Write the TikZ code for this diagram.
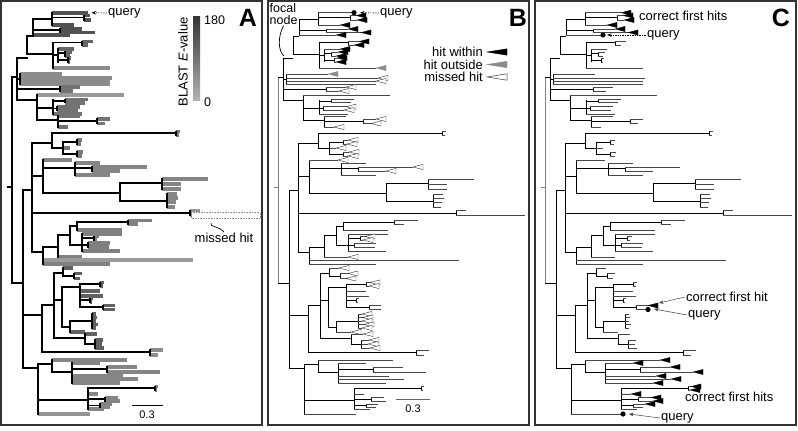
\documentclass[tikz,border=0pt]{standalone}
\usepackage{fontspec}
\setmainfont{Liberation Sans}
\usetikzlibrary{arrows.meta}
\newcommand\pmode{0}
\newcommand\mkr[3]{%
 \ifcase#1\relax
 \or \filldraw[black, line width=0.3pt] (#2,#3) -- ++(10,-2.6) -- ++(0,5.2) -- cycle;
 \or \filldraw[draw=black!45, fill=black!45, line width=0.3pt] (#2,#3) -- ++(10,-2.6) -- ++(0,5.2) -- cycle;
 \or \filldraw[draw=black!80, fill=white, line width=0.4pt] (#2,#3) -- ++(10,-2.6) -- ++(0,5.2) -- cycle;
 \or \fill[black] (#2,#3) circle (2.6);
 \fi}
\newcommand\lf[5]{\draw[leafline] (#1,#3) -- (#2,#3);%
 \ifcase\pmode\relax \or \mkr{#4}{#2}{#3}\or \mkr{#5}{#2}{#3}\fi}
\newcommand\lfmiss[3]{\ifnum\pmode=0 \draw[leafline] (#1,#3) -- (192,#3);\else \draw[leafline] (#1,#3) -- (#2,#3);\fi}
\newcommand\nd[5]{\draw[intline] (#1,#3) -- (#2,#3); \draw[intline] (#2,#4) -- (#2,#5);}
\newcommand\treegeom{%
\draw[rootline] (8,187) -- (12,187);
\draw[rootline] (12,77) -- (12,283);
\nd{12}{17}{77}{58}{100}
\colorlet{lc}{black!68}
\nd{17}{27}{58}{36}{54}
\nd{27}{33}{36}{19}{35}
\nd{33}{52}{19}{12.7}{25}
\lf{52}{88}{12.7}{4}{1}
\nd{52}{84}{17.5}{15.5}{20}
\lf{84}{90}{15.5}{1}{1}
\lf{84}{91}{20}{1}{1}
\lf{52}{74}{25}{1}{1}
\nd{33}{60}{30}{29}{32.5}
\lf{60}{82}{29}{1}{1}
\lf{60}{95}{32.5}{1}{1}
\lf{33}{70}{35}{1}{4}
\colorlet{lc}{black!60}
\nd{27}{53}{54}{42.5}{68}
\nd{53}{82}{42.5}{41.5}{45}
\lf{82}{93}{41.5}{1}{0}
\lf{82}{88}{45}{1}{0}
\nd{53}{58}{55}{49}{62}
\lf{58}{74}{49}{1}{0}
\nd{58}{65}{53}{52}{56}
\lf{65}{72}{52}{1}{0}
\lf{65}{70}{56}{1}{0}
\nd{58}{68}{60}{58}{62}
\lf{68}{71}{58}{1}{0}
\lf{68}{70}{62}{1}{0}
\colorlet{lc}{black!45}
\lf{53}{110}{68}{2}{0}
\nd{17}{20}{79}{74}{84}
\lf{20}{62}{74}{2}{0}
\lf{20}{112}{78}{3}{0}
\lf{20}{110}{81}{3}{0}
\lf{20}{110}{84}{0}{0}
\colorlet{lc}{black!55}
\nd{17}{60}{89}{87}{91}
\lf{60}{80}{87}{3}{0}
\lf{60}{73}{91}{3}{0}
\nd{17}{37}{100}{95}{120}
\colorlet{lc}{black!40}
\lf{37}{124}{95}{0}{0}
\colorlet{lc}{black!55}
\nd{37}{53}{108}{100}{114}
\nd{53}{65}{101}{99.3}{102.7}
\lf{65}{88}{99.3}{0}{0}
\lf{65}{85}{102.7}{0}{0}
\nd{53}{57}{108.5}{106.7}{110}
\lf{57}{80}{106.7}{3}{0}
\lf{57}{78}{110}{3}{0}
\lf{53}{82}{114}{0}{0}
\nd{37}{58}{120}{116}{127}
\lf{58}{80}{116}{0}{0}
\nd{58}{97}{121}{119}{123.5}
\lf{97}{110}{119}{3}{0}
\lf{97}{105}{123.5}{3}{0}
\lf{58}{68}{127}{3}{0}
% S and M
\nd{12}{23}{283}{190}{368}
\nd{23}{32}{190}{143}{252}
\colorlet{lc}{black!52}
\nd{32}{52}{143}{133}{148}
\nd{52}{176}{133}{131.5}{135}
\lf{176}{180}{131.5}{0}{0}
\lf{176}{179}{135}{0}{0}
\nd{52}{63}{148}{142}{154}
\nd{63}{77}{142}{140}{144}
\lf{77}{82}{140}{3}{0}
\lf{77}{81}{144}{3}{0}
\lf{63}{70}{148}{3}{0}
\nd{63}{77}{154}{152}{156}
\lf{77}{83}{152}{3}{0}
\lf{77}{82}{156}{3}{0}
\colorlet{lc}{black!48}
\nd{32}{43}{176}{160}{193}
\lf{43}{72}{160}{3}{0}
\nd{43}{75}{168}{163}{175}
\lf{75}{100}{163}{0}{0}
\nd{75}{92}{168}{167}{171}
\lf{92}{147}{167}{3}{0}
\lf{92}{120}{171}{3}{0}
\lf{75}{110}{175}{0}{0}
\nd{43}{120}{193}{183}{201}
\nd{120}{162}{183}{179}{189}
\lf{162}{208}{179}{0}{0}
\lf{162}{181}{184}{0}{0}
\lf{162}{181}{189}{0}{0}
\nd{120}{167}{201}{194}{207}
\lf{167}{177}{194}{0}{0}
\lf{167}{178}{198}{0}{0}
\lf{167}{176}{202}{0}{0}
\lf{167}{175}{207}{0}{0}
\colorlet{lc}{black!42}
\nd{32}{190}{213}{210.5}{215.5}
\lf{190}{200}{210.5}{0}{0}
\lfmiss{190}{259}{215.5}
\colorlet{lc}{black!50}
\nd{32}{43}{252}{247}{264}
\nd{43}{58}{247}{235}{257}
\nd{58}{70}{235}{226}{245}
\nd{70}{77}{226}{222}{230}
\nd{77}{128}{222}{220.5}{224}
\lf{128}{152}{220.5}{0}{0}
\lf{128}{138}{224}{0}{0}
\lf{77}{122}{230}{0}{0}
\nd{70}{82}{245}{234}{251}
\lf{82}{122}{234}{0}{0}
\nd{82}{94}{238}{236.5}{240}
\lf{94}{99}{236.5}{3}{0}
\lf{94}{97}{240}{3}{0}
\nd{82}{88}{245}{243}{247}
\lf{88}{110}{243}{0}{0}
\lf{88}{109}{247}{0}{0}
\lf{82}{120}{251}{0}{0}
\lf{58}{82}{257}{3}{0}
\colorlet{lc}{black!40}
\lf{43}{193}{260}{0}{0}
\colorlet{lc}{black!50}
\lf{43}{110}{264}{0}{0}
% L1
\nd{23}{42}{315}{305}{352}
\nd{42}{54}{305}{273}{338}
\colorlet{lc}{black!62}
\nd{54}{63}{273}{268}{276}
\lf{63}{73}{268}{3}{0}
\nd{63}{74}{276}{273.5}{278.5}
\lf{74}{82}{273.5}{3}{0}
\lf{74}{80}{278.5}{3}{0}
\nd{54}{62}{300}{287}{327}
\nd{62}{80}{287}{284}{307}
\nd{80}{100}{284}{282.5}{286}
\lf{100}{104}{282.5}{3}{0}
\lf{100}{103}{286}{3}{0}
\lf{80}{100}{291}{0}{0}
\lf{80}{103}{296}{0}{0}
\nd{80}{90}{300}{298.5}{302}
\lf{90}{93}{298.5}{0}{0}
\lf{90}{92}{302}{0}{0}
\nd{80}{103}{307}{305.5}{309.5}
\lf{103}{115}{305.5}{0}{1}
\lf{103}{115}{309.5}{0}{4}
\nd{62}{70}{327}{321}{332}
\nd{70}{92}{321}{314}{328}
\lf{92}{96}{314}{3}{0}
\lf{92}{97}{317.5}{3}{0}
\lf{92}{96}{321}{3}{0}
\lf{92}{98}{324.5}{3}{0}
\lf{92}{96}{328}{3}{0}
\lf{70}{85}{332}{3}{0}
\nd{54}{85}{338}{334}{344}
\lf{85}{97}{334}{3}{0}
\nd{85}{95}{344}{340}{348}
\lf{95}{103}{340}{3}{0}
\lf{95}{102}{344}{3}{0}
\lf{95}{104}{348}{3}{0}
\colorlet{lc}{black!45}
\nd{42}{150}{352}{350}{355}
\lf{150}{163}{350}{0}{0}
\lf{150}{158}{355}{0}{0}
% L2
\nd{23}{38}{368}{364}{414}
\nd{38}{52}{364}{360}{372}
\colorlet{lc}{black!48}
\lf{52}{127}{360}{0}{1}
\nd{52}{72}{372}{363}{383}
\lf{72}{100}{363}{0}{1}
\nd{72}{107}{369}{367}{372}
\lf{107}{137}{367}{0}{1}
\lf{107}{160}{372}{0}{1}
\lf{72}{123}{376}{0}{1}
\lf{72}{138}{379}{0}{1}
\lf{72}{120}{383}{0}{1}
\nd{38}{88}{400}{388}{409}
\nd{88}{155}{388}{386.5}{390}
\lf{155}{158}{386.5}{0}{1}
\lf{155}{157}{390}{0}{1}
\lf{88}{98}{394}{0}{1}
\nd{88}{105}{399}{397.5}{401}
\lf{105}{118}{397.5}{0}{1}
\lf{105}{120}{401}{0}{1}
\nd{88}{100}{405.5}{404}{407}
\lf{100}{112}{404}{0}{1}
\lf{100}{110}{407}{0}{0}
\lf{88}{104}{409}{0}{0}
\colorlet{lc}{black!42}
\lf{38}{90}{414}{0}{4}
}
\begin{document}
\begin{tikzpicture}[x=1pt,y=-1pt,
  lbl/.style={font=\fontsize{13}{14}\selectfont, inner sep=1pt},
  small/.style={font=\fontsize{11}{12}\selectfont, inner sep=1pt},
  big/.style={font=\fontsize{25}{25}\selectfont\bfseries, inner sep=0pt},
  dotarrow/.style={densely dotted, line width=0.7pt, -{Stealth[length=4.5pt,width=3.5pt]}},
  solarrow/.style={black!75, line width=0.5pt, -{Stealth[length=4.5pt,width=3.5pt]}},
  frame/.style={draw=black!80, line width=1.4pt},
  rootline/.style={intline}]
\useasboundingbox (0,0) rectangle (798,431);
\fill[white] (0,0) rectangle (798,431);
% ---------- Panel A ----------
\begin{scope}[intline/.style={draw=none}, leafline/.style={draw=lc, line width=3.6pt}]
\renewcommand\pmode{0}\treegeom
\end{scope}
\begin{scope}[intline/.style={black, line width=1.2pt, line cap=rect}, leafline/.style={draw=none}]
\renewcommand\pmode{0}\treegeom
\end{scope}
\draw[black!45, densely dotted, line width=0.6pt] (191,212.6) rectangle (260,218.4);
\node[lbl] (mh) at (224,238) {missed hit};
\coordinate (mhs) at (211,223);
\draw[black, line width=0.7pt] (mhs) .. controls (209,227) and (219,226) .. (mh.north);
\coordinate (qa) at (91.5,12.7);
\node[lbl, anchor=west] (qat) at (107,13) {query};
\draw[dotarrow] (qat.west) -- (qa);
\shade[top color=black!80, bottom color=black!30] (193,16) rectangle (200,100);
\node[lbl, anchor=west, font=\fontsize{12.5}{13}\selectfont] (v180) at (203,20) {180};
\node[lbl, anchor=west, font=\fontsize{12.5}{13}\selectfont] (v0) at (203,102) {0};
\node[lbl, rotate=90] (bl) at (183,62) {BLAST \textit{E}-value};
\node[big] (la) at (248,18) {A};
\coordinate (sa1) at (132,405); \coordinate (sa2) at (163,405);
\draw[black, line width=0.7pt] (sa1) -- (sa2);
\node[small] (sat) at (147,415) {0.3};
\draw[frame] (1,1) rectangle (262,425);
% ---------- Panel B ----------
\begin{scope}[xshift=266pt, intline/.style={black, line width=0.75pt}, leafline/.style={black!72, line width=0.75pt}, rootline/.style={black!50, line width=1pt}]
\renewcommand\pmode{1}\treegeom
\end{scope}
\node[lbl, anchor=north west, align=left, font=\fontsize{12.5}{12}\selectfont] (fn) at (268.5,2) {focal\\node};
\coordinate (fne) at (284,56);
\draw[black, line width=0.7pt] (fn.south) .. controls +(-6,11) and +(-6,-5) .. (fne);
\coordinate (qb) at (360,12.7);
\node[lbl, anchor=west] (qbt) at (379,13) {query};
\draw[dotarrow] (qbt.west) -- (qb);
\node[lbl, anchor=east] (hw) at (484,52) {hit within};
\node[lbl, anchor=east] (ho) at (484,64.5) {hit outside};
\node[lbl, anchor=east] (mhb) at (484,77) {missed hit};
\filldraw[black] (487,52) -- (507,48.8) -- (507,55.2) -- cycle;
\filldraw[black!45] (487,64.5) -- (507,61.3) -- (507,67.7) -- cycle;
\filldraw[draw=black!80, fill=white, line width=0.5pt] (487,77) -- (507,73.8) -- (507,80.2) -- cycle;
\node[big] (lb) at (518,18) {B};
\coordinate (sb1) at (396,399); \coordinate (sb2) at (430,399);
\draw[black!60, line width=0.8pt] (sb1) -- (sb2);
\node[small] (sbt) at (413,409) {0.3};
\draw[frame] (268,1) rectangle (529,425);
% ---------- Panel C ----------
\begin{scope}[xshift=533pt, intline/.style={black, line width=0.75pt}, leafline/.style={black!72, line width=0.75pt}, rootline/.style={black!50, line width=1pt}]
\renewcommand\pmode{2}\treegeom
\end{scope}
\node[lbl, anchor=west] (cf1) at (638,16) {correct first hits};
\coordinate (qc1) at (607,35);
\node[lbl, anchor=west] (qc1t) at (646,35) {query};
\draw[dotarrow] (qc1t.west) -- (qc1);
\coordinate (hc2) at (659,303);
\node[lbl, anchor=west] (cf2) at (685,297) {correct first hit};
\draw[solarrow] (cf2.west) -- (hc2);
\coordinate (qc2) at (654,309);
\node[lbl, anchor=west] (qc2t) at (687,315) {query};
\draw[solarrow] (qc2t.west) -- (qc2);
\node[lbl, anchor=west] (cf3) at (684,397) {correct first hits};
\coordinate (qc3) at (629,414);
\node[lbl, anchor=west] (qc3t) at (660,418) {query};
\draw[solarrow] (qc3t.west) -- (qc3);
\node[big] (lc) at (781,18) {C};
\draw[frame] (535,1) rectangle (796,425);
\end{tikzpicture}
\end{document}
